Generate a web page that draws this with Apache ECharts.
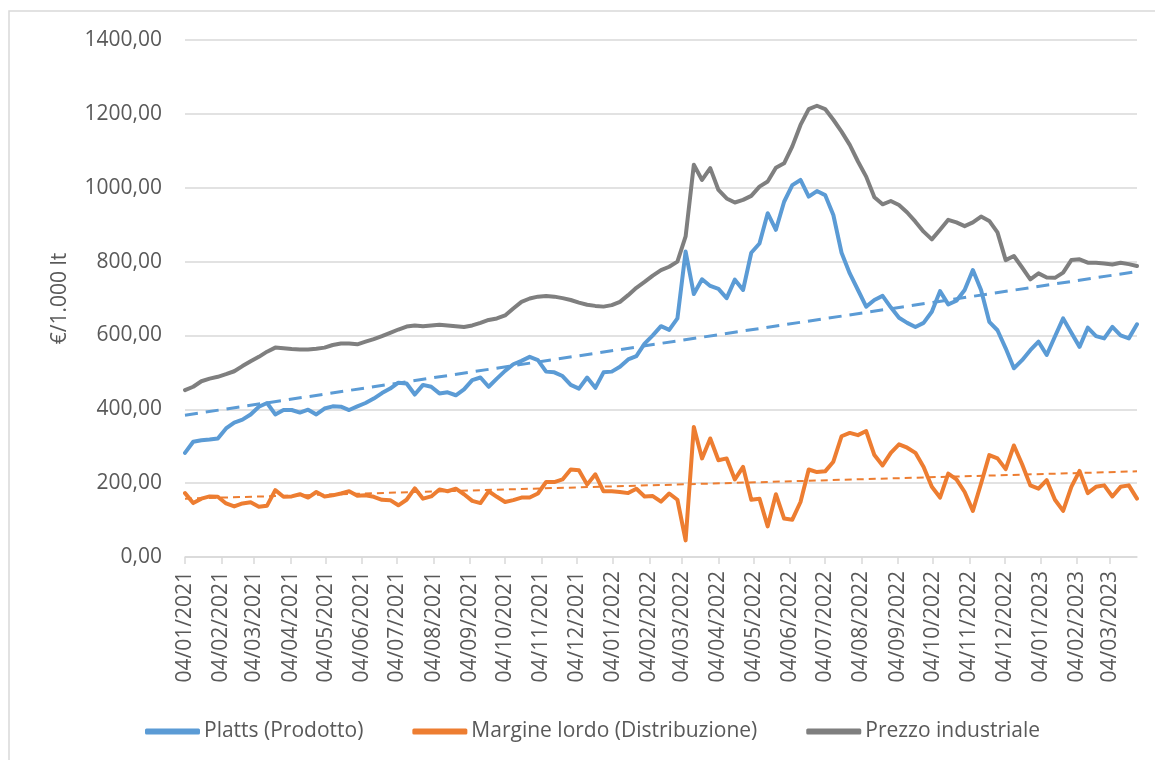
<!DOCTYPE html>
<html>
<head>
<meta charset="utf-8">
<script src="https://cdn.jsdelivr.net/npm/echarts@6/dist/echarts.min.js"></script>
<style>
html,body{margin:0;padding:0;background:#ffffff;}
#chart{width:1155px;height:760px;}
</style>
</head>
<body>
<div id="chart"></div>
<script>
// ---------- DATA ----------
// weekly observations, first Monday 04/01/2021, last 27/03/2023
const firstDay = '2021-01-04';
const lastDay = '2023-03-27';

const tickLabels = [
  '04/01/2021','04/02/2021','04/03/2021','04/04/2021','04/05/2021','04/06/2021',
  '04/07/2021','04/08/2021','04/09/2021','04/10/2021','04/11/2021','04/12/2021',
  '04/01/2022','04/02/2022','04/03/2022','04/04/2022','04/05/2022','04/06/2022',
  '04/07/2022','04/08/2022','04/09/2022','04/10/2022','04/11/2022','04/12/2022',
  '04/01/2023','04/02/2023','04/03/2023'
];

const seriesNames = ['Platts (Prodotto)', 'Margine lordo (Distribuzione)', 'Prezzo industriale'];

const platts = [
  282,312,316,318,321,348,364,372,386,407,417,386,398,398,391,399,386,402,408,407,398,408,417,429,444,456,472,470,440,
  466,461,443,446,438,454,479,486,461,483,504,522,531,542,533,502,500,490,466,456,486,458,500,502,515,535,544,578,600,625,
  615,646,827,712,752,734,726,701,751,723,824,849,931,886,962,1007,1021,976,991,980,926,824,768,723,678,696,707,676,
  648,634,623,634,664,720,684,694,723,777,723,637,614,565,511,533,560,583,547,597,646,607,569,621,598,592,623,600,592,630
];

const margine = [
  173,146,158,164,163,145,137,145,148,136,139,181,163,164,170,161,176,164,167,172,178,166,167,163,155,154,140,155,186,
  158,164,183,178,185,170,152,146,178,163,149,154,161,161,172,203,203,210,237,235,196,224,178,178,176,173,185,164,165,150,
  172,155,45,352,267,321,262,267,210,244,155,158,83,170,104,101,149,237,230,232,258,327,336,330,341,276,248,282,
  305,296,282,244,190,161,226,210,176,125,199,276,267,238,302,251,194,185,208,155,125,190,233,173,190,194,164,190,194,158
];

const prezzo = [
  452,461,476,483,488,495,503,517,530,542,556,567,565,563,562,562,564,567,574,578,578,576,583,590,598,607,616,624,627,
  625,627,629,627,625,623,627,634,642,646,654,673,691,700,705,707,705,701,696,689,683,680,678,682,691,709,729,745,762,777,
  786,800,868,1062,1021,1053,994,971,960,967,978,1003,1017,1054,1066,1112,1170,1213,1222,1213,1184,1152,1116,1071,1030,974,955,964,
  953,933,908,881,860,886,913,906,896,906,922,910,879,804,815,784,752,768,757,756,770,804,806,797,797,795,792,797,793,788
];

// linear trendlines (start / end values)
const plattsTrend = [384, 773];
const margineTrend = [158, 232];

const yTicks = { min: 0, max: 1400, step: 200 };

// ---------- BUILD ----------
function fmtDate(d) {
  return String(d.getUTCDate()).padStart(2, '0') + '/' +
         String(d.getUTCMonth() + 1).padStart(2, '0') + '/' + d.getUTCFullYear();
}
const days = [];
{
  let t = Date.parse(firstDay + 'T00:00:00Z');
  const end = Date.parse(lastDay + 'T00:00:00Z');
  while (t <= end) { days.push(fmtDate(new Date(t))); t += 86400000; }
}
const weekly = arr => arr.map((v, i) => [i * 7, v]);
const trend = t => [[0, t[0]], [days.length - 1, t[1]]];
const isTick = (idx, val) => tickLabels.indexOf(val) >= 0;

const TXT = '#595959';
const FONT = "'Open Sans', 'Noto Sans', sans-serif";
const GRID = '#d9d9d9';
const C_BLUE = '#5b9bd5', C_ORANGE = '#ed7d31', C_GRAY = '#7f7f7f';

const chart = echarts.init(document.getElementById('chart'), null, { renderer: 'canvas' });
chart.setOption({
  backgroundColor: '#ffffff',
  animation: false,
  textStyle: { fontFamily: FONT, color: TXT },
  graphic: [{
    type: 'rect', silent: true, z: -1,
    shape: { x: 9, y: 11, width: 1400, height: 1000 },
    style: { fill: 'none', stroke: '#d9d9d9', lineWidth: 1.5 }
  }],
  grid: { left: 185, right: 18, top: 40, bottom: 203, containLabel: false, outerBoundsMode: 'none' },
  legend: {
    data: seriesNames,
    left: 140, top: 716, padding: 5,
    icon: 'roundRect',
    itemWidth: 55, itemHeight: 6, itemGap: 49,
    textStyle: { fontFamily: FONT, fontSize: 21, color: TXT, padding: [0, 0, 0, -1] }
  },
  xAxis: {
    type: 'category',
    data: days,
    boundaryGap: false,
    axisLine: { show: true, lineStyle: { color: GRID, width: 1.5 } },
    axisTick: { show: true, interval: isTick, length: 7, lineStyle: { color: GRID, width: 1.5 } },
    axisLabel: {
      interval: isTick, rotate: 90, margin: 14,
      fontFamily: FONT, fontSize: 21, color: TXT
    },
    splitLine: { show: false }
  },
  yAxis: {
    type: 'value',
    min: yTicks.min, max: yTicks.max, interval: yTicks.step,
    name: '€/1.000 lt',
    nameLocation: 'middle', nameRotate: 90, nameGap: 114,
    nameTextStyle: { fontFamily: FONT, fontSize: 21, color: TXT },
    axisLine: { show: false },
    axisTick: { show: false },
    axisLabel: {
      margin: 23, fontFamily: FONT, fontSize: 21, color: TXT,
      formatter: v => v.toFixed(2).replace('.', ',')
    },
    splitLine: { show: true, lineStyle: { color: GRID, width: 1.5 } }
  },
  series: [
    {
      name: seriesNames[0], type: 'line', data: weekly(platts),
      symbol: 'none', color: C_BLUE,
      lineStyle: { color: C_BLUE, width: 4, join: 'round', cap: 'round' }, z: 3
    },
    {
      name: seriesNames[1], type: 'line', data: weekly(margine),
      symbol: 'none', color: C_ORANGE,
      lineStyle: { color: C_ORANGE, width: 4, join: 'round', cap: 'round' }, z: 3
    },
    {
      name: seriesNames[2], type: 'line', data: weekly(prezzo),
      symbol: 'none', color: C_GRAY,
      lineStyle: { color: C_GRAY, width: 4, join: 'round', cap: 'round' }, z: 3
    },
    {
      name: 'trend-platts', type: 'line', data: trend(plattsTrend),
      symbol: 'none', silent: true,
      lineStyle: { color: C_BLUE, width: 3, type: [13, 8] }, z: 4
    },
    {
      name: 'trend-margine', type: 'line', data: trend(margineTrend),
      symbol: 'none', silent: true,
      lineStyle: { color: C_ORANGE, width: 2, type: [7, 5] }, z: 4
    }
  ]
});
</script>
</body>
</html>
